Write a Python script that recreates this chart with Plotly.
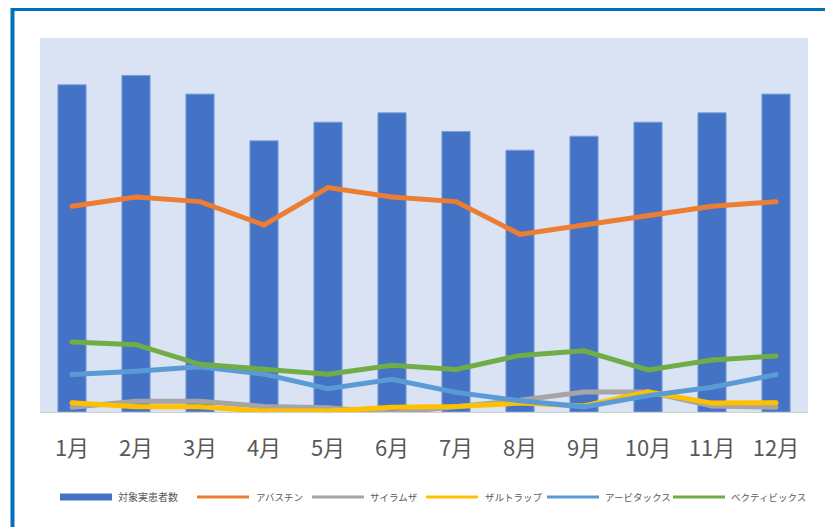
import plotly.graph_objects as go

months = ['1月', '2月', '3月', '4月', '5月', '6月', '7月', '8月', '9月', '10月', '11月', '12月']

bar_name = '対象実患者数'
patients = [70, 72, 68, 58, 62, 64, 60, 56, 59, 62, 64, 68]

line_names = ['アバスチン', 'サイラムザ', 'ザルトラップ', 'アービタックス', 'ベクティビックス']
avastin = [44, 46, 45, 40, 48, 46, 45, 38, 40, 42, 44, 45]
cyramza = [1, 2.3, 2.3, 1.2, 0.9, -0.2, 1.1, 2.5, 4.3, 4.3, 1.3, 1]
zaltrap = [2, 1.1, 1.1, 0.2, 0.2, 1, 1.2, 1.9, 1.3, 4.3, 1.9, 2]
erbitux = [8, 8.7, 9.7, 8.1, 5, 7, 4.2, 2.4, 1.1, 3.5, 5.3, 8]
vectibix = [15, 14.4, 10.2, 9.2, 8.1, 10, 9.1, 12.1, 13.1, 9, 11.1, 12]
line_values = [avastin, cyramza, zaltrap, erbitux, vectibix]

bar_color = '#4472C4'
line_colors = ['#ED7D31', '#A5A5A5', '#FFC000', '#5B9BD5', '#70AD47']

FONT = 'Noto Sans CJK JP'
OFF = 8  # page body margin
WIN_W, WIN_H = 833, 527
W, H = WIN_W - OFF, WIN_H - OFF
# plot area in window pixel coordinates
PL, PR, PT, PB = 40, 808, 38, 412.5
ML, MR, MT, MB = PL - OFF, WIN_W - PR, PT - OFF, WIN_H - PB
PW = PR - PL
PH = PB - PT


def px_to_paper_x(px):
    return (px - PL) / PW


def px_to_paper_y(py):
    return (PB - py) / PH


fig = go.Figure()
fig.add_trace(go.Bar(
    x=months, y=patients, name=bar_name,
    marker=dict(color=bar_color, line=dict(color='#7F9FDB', width=1)),
    showlegend=False,
))
for name, vals, col in zip(line_names, line_values, line_colors):
    fig.add_trace(go.Scatter(
        x=months, y=vals, name=name, mode='lines+markers',
        line=dict(color=col, width=5),
        marker=dict(color=col, size=5, line=dict(width=0)),
        cliponaxis=False, showlegend=False,
    ))

shapes = []
annotations = []
# outer blue frame (only left/top visible in window)
shapes.append(dict(type='rect', xref='paper', yref='paper',
                   x0=px_to_paper_x(12.5), x1=px_to_paper_x(WIN_W + 40),
                   y0=px_to_paper_y(WIN_H + 40), y1=px_to_paper_y(9),
                   line=dict(color='#0070C0', width=4), fillcolor='rgba(0,0,0,0)',
                   layer='above'))

# manual legend
leg_y = 497.5
sym_x = [60, 197, 312, 426, 547, 673]
sym_len = 52
txt_x = [116, 254, 368, 483, 603, 729]
names_all = [bar_name] + line_names
colors_all = [bar_color] + line_colors
for i, (nm, col) in enumerate(zip(names_all, colors_all)):
    if i == 0:
        shapes.append(dict(type='rect', xref='paper', yref='paper',
                           x0=px_to_paper_x(sym_x[i]), x1=px_to_paper_x(sym_x[i] + sym_len),
                           y0=px_to_paper_y(leg_y + 3.5), y1=px_to_paper_y(leg_y - 3.5),
                           fillcolor=col, line=dict(width=0)))
    else:
        shapes.append(dict(type='line', xref='paper', yref='paper',
                           x0=px_to_paper_x(sym_x[i]), x1=px_to_paper_x(sym_x[i] + sym_len),
                           y0=px_to_paper_y(leg_y), y1=px_to_paper_y(leg_y),
                           line=dict(color=col, width=3)))
    annotations.append(dict(xref='paper', yref='paper',
                            x=px_to_paper_x(txt_x[i]), y=px_to_paper_y(leg_y),
                            xanchor='left', yanchor='middle', showarrow=False,
                            text=nm, font=dict(family=FONT, size=10 if i == 0 else 9.5,
                                               color='#595959')))

fig.update_layout(
    width=W, height=H,
    margin=dict(l=ML, r=MR, t=MT, b=MB, pad=0),
    paper_bgcolor='white', plot_bgcolor='#DAE3F3',
    bargap=0.56,
    showlegend=False,
    shapes=shapes, annotations=annotations,
    font=dict(family=FONT, color='#595959'),
)
fig.update_xaxes(
    range=[-0.5, len(months) - 0.5],
    showgrid=False, zeroline=False, showline=True, linecolor='#D0D0D0', linewidth=1,
    ticks='', tickfont=dict(family=FONT, size=22, color='#595959'),
    ticklabelstandoff=17, fixedrange=True,
)
fig.update_yaxes(
    range=[0, 80], showgrid=False, zeroline=False, showline=False,
    showticklabels=False, ticks='', fixedrange=True,
)

fig.write_html('out.html')
